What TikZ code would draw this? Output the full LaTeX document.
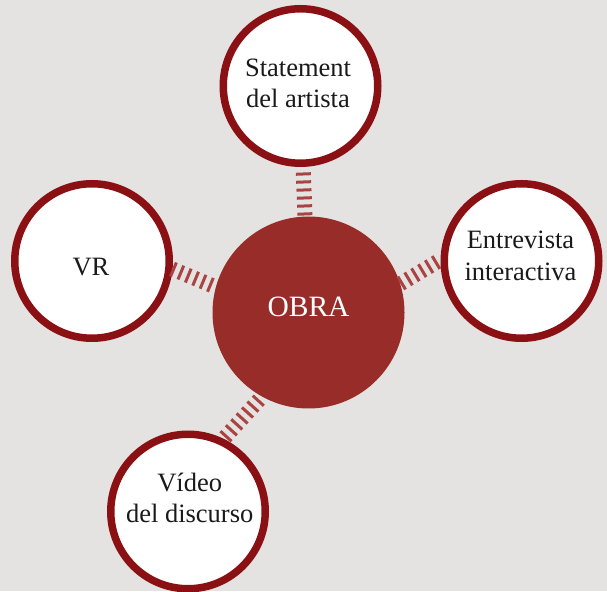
\documentclass[tikz,border=0pt]{standalone}
\usepackage{fontspec}
\setmainfont{Liberation Serif}
\definecolor{bgc}{HTML}{E5E3E1}
\definecolor{ringc}{HTML}{8A1014}
\definecolor{obrac}{HTML}{982C29}
\definecolor{stripec}{HTML}{A94442}
\definecolor{txtc}{HTML}{1A1A1A}
\begin{document}
\begin{tikzpicture}[x=1pt,y=1pt,
  ring/.style={circle,draw=ringc,line width=7.5pt,fill=white,minimum size=154.5pt,inner sep=0pt},
  hub/.style={circle,fill=obrac,minimum size=192pt,inner sep=0pt},
  lbl/.style={align=center,text=txtc,inner sep=0pt,font=\fontsize{26.5}{31.5}\selectfont},
  hublbl/.style={text=white,inner sep=0pt,font=\fontsize{29.5}{34}\selectfont},
  conn/.style={draw=stripec,line width=15pt,dash pattern=on 3pt off 5pt,line cap=butt}]
\fill[bgc] (0,0) rectangle (607,591);
\useasboundingbox (0,0) rectangle (607,591);
% circles
\node[hub] (obra) at (308.5,278.5) {};
\node[ring] (stmt) at (300.5,505) {};
\node[ring] (vr) at (92,330) {};
\node[ring] (entr) at (521.5,330) {};
\node[ring] (video) at (188,79.5) {};
% texts
\node[hublbl] (obra-t) at (308.5,284.3) {OBRA};
\node[lbl] (stmt-t) at (298,507.4) {Statement\\del artista};
\node[lbl] (vr-t) at (91,324) {VR};
\node[lbl] (entr-t) at (520.5,335.1) {Entrevista\\interactiva};
\node[lbl] (video-t) at (189.7,93) {Vídeo\\del discurso};
% connector ends
\coordinate (s1) at (303.3,418.5);
\coordinate (s2) at (305,375);
\coordinate (v1) at (172.1,322.1);
\coordinate (v2) at (213.4,304.9);
\coordinate (e1) at (400.4,307.2);
\coordinate (e2) at (438.6,330.1);
\coordinate (d1) at (259.3,191.4);
\coordinate (d2) at (224,152.6);
\draw[conn] (s1) -- (s2);
\draw[conn] (v1) -- (v2);
\draw[conn] (e1) -- (e2);
\draw[conn] (d1) -- (d2);
\end{tikzpicture}
\end{document}
